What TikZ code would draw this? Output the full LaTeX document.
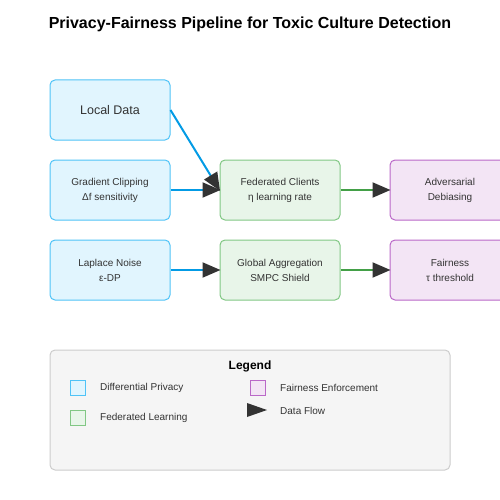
\documentclass[tikz,border=0pt]{standalone}
\usepackage{fontspec}
\setmainfont{Liberation Sans}
\usetikzlibrary{arrows.meta, positioning}
\definecolor{dpfill}{HTML}{E1F5FE}
\definecolor{dpline}{HTML}{4FC3F7}
\definecolor{dpflow}{HTML}{039BE5}
\definecolor{flfill}{HTML}{E8F5E9}
\definecolor{flline}{HTML}{81C784}
\definecolor{flflow}{HTML}{43A047}
\definecolor{fefill}{HTML}{F3E5F5}
\definecolor{feline}{HTML}{BA68C8}
\definecolor{legfill}{HTML}{F5F5F5}
\definecolor{legline}{HTML}{CCCCCC}
\definecolor{tipgray}{HTML}{333333}
\tikzset{
  stage/.style={rounded corners=5pt, line width=1pt, minimum width=120pt, minimum height=60pt,
    align=center, text=tipgray, font=\fontsize{10}{15}\selectfont, inner sep=0pt},
  dpbox/.style={stage, fill=dpfill, draw=dpline},
  flbox/.style={stage, fill=flfill, draw=flline},
  febox/.style={stage, fill=fefill, draw=feline},
  swatch/.style={line width=1pt, minimum size=15pt, inner sep=0pt},
  legtext/.style={anchor=west, text=tipgray, font=\fontsize{10}{12}\selectfont, inner sep=0pt},
  flow/.style={line width=2pt, -{Triangle[length=18pt, width=15pt, color=tipgray]}, shorten >=-1pt}
}

\begin{document}
\begin{tikzpicture}[x=1pt, y=-1pt]
\useasboundingbox (0,0) rectangle (500,500);
\node [font=\bfseries\fontsize{16}{19}\selectfont] (title) at (250,24) {Privacy-Fairness Pipeline for Toxic Culture Detection};

% differential privacy column
\node [dpbox, font=\fontsize{12.5}{15}\selectfont] (local) at (110,110) {Local Data};
\node [dpbox] (clip) at (110,190) {Gradient Clipping\\Δf sensitivity};
\node [dpbox] (noise) at (110,270) {Laplace Noise\\ε-DP};

% federated learning column
\node [flbox] (clients) at (280,190) {Federated Clients\\η learning rate};
\node [flbox] (aggr) at (280,270) {Global Aggregation\\SMPC Shield};

% fairness column
\node [febox] (debias) at (450,190) {Adversarial\\Debiasing};
\node [febox] (fair) at (450,270) {Fairness\\τ threshold};

\draw[flow, dpflow](local.east)--(clients.west);
\draw[flow, dpflow](clip)--(clients);
\draw[flow, dpflow](noise)--(aggr);
\draw[flow, flflow](clients)--(debias);
\draw[flow, flflow](aggr)--(fair);

% legend
\node [rounded corners=5pt, fill=legfill, draw=legline, line width=1pt, minimum width=400pt, minimum height=120pt] (legend) at (250,410) {};
\node [font=\bfseries\fontsize{12}{14}\selectfont, text=black] (legtitle) at (250,366) {Legend};
\node [swatch, fill=dpfill, draw=dpline] (legdp) at (77.5,387.5) {};
\node [legtext] (legdptext) at (100,388) {Differential Privacy};
\node [swatch, fill=flfill, draw=flline] (legfl) at (77.5,417.5) {};
\node [legtext] (legfltext) at (100,418) {Federated Learning};
\node [swatch, fill=fefill, draw=feline] (legfe) at (257.5,387.5) {};
\node [legtext] (legfetext) at (280,388) {Fairness Enforcement};
\fill[tipgray] (247,403) -- (267,410) -- (247,417) -- cycle;
\node [legtext] (legflowtext) at (280,411) {Data Flow};

\end{tikzpicture}
\end{document}
